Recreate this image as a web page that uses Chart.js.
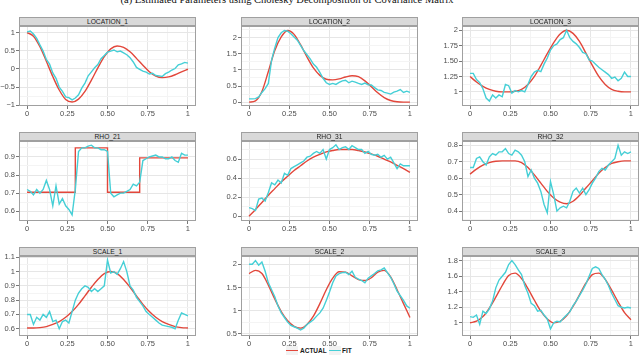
<!DOCTYPE html>
<html>
<head>
<meta charset="utf-8">
<script src="https://cdn.jsdelivr.net/npm/chart.js@4.4.0/dist/chart.umd.min.js"></script>
<style>
  body { margin: 0; width: 640px; height: 358px; overflow: hidden; background: #fff; position: relative; font-family: 'Liberation Sans', Arial, sans-serif; }
  canvas { position: absolute; }
  .title { position: absolute; left: 0; width: 574px; top: -6px; text-align: center; font: 10.5px 'Liberation Serif', serif; color: #111; white-space: nowrap; }
  .strip { position: absolute; height: 9px; box-sizing: border-box; background: #d9d9d9; border: 1px solid #a0a0a0; font-size: 6.7px; line-height: 7px; text-align: center; color: #1a1a1a; z-index: 2; }
  .key { position: absolute; width: 12px; height: 9px; background: #f2f2f2; }
  .key i { position: absolute; left: 0; right: 0; top: 3.5px; height: 1.6px; }
  .lab { position: absolute; font-size: 6.5px; font-weight: bold; line-height: 9px; color: #1a1a1a; }
</style>
</head>
<body>
<div class="title">(a) Estimated Parameters using Cholesky Decomposition of Covariance Matrix</div>
<div class="key" style="left:286px;top:346px"><i style="background:#e2473b"></i></div>
<div class="lab" style="left:300px;top:346px">ACTUAL</div>
<div class="key" style="left:329px;top:346px"><i style="background:#45cfd6"></i></div>
<div class="lab" style="left:342px;top:346px">FIT</div>
<script>
// x grids
const actualX = [0, 0.04, 0.08, 0.12, 0.16, 0.20, 0.24, 0.28, 0.32, 0.36, 0.40, 0.44, 0.48, 0.52, 0.56, 0.60, 0.64, 0.68, 0.72, 0.76, 0.80, 0.84, 0.88, 0.92, 0.96, 1.00];
const fitX = [0, 0.02, 0.04, 0.06, 0.08, 0.10, 0.12, 0.14, 0.16, 0.18, 0.20, 0.22, 0.24, 0.26, 0.28, 0.30, 0.32, 0.34, 0.36, 0.38, 0.40, 0.42, 0.44, 0.46, 0.48, 0.50, 0.52, 0.54, 0.56, 0.58, 0.60, 0.62, 0.64, 0.66, 0.68, 0.70, 0.72, 0.74, 0.76, 0.78, 0.80, 0.82, 0.84, 0.86, 0.88, 0.90, 0.92, 0.94, 0.96, 0.98, 1.00];
const stepX = [0, 0.3, 0.3, 0.5, 0.5, 0.7, 0.7, 1];
const xTicks = [0, 0.25, 0.5, 0.75, 1];
const xLabels = ['0', '0.25', '0.50', '0.75', '1'];

// LOCATION_1
const location1Actual = [1.00, 0.90, 0.61, 0.21, -0.21, -0.58, -0.84, -0.91, -0.83, -0.62, -0.31, 0.03, 0.34, 0.55, 0.63, 0.59, 0.47, 0.29, 0.10, -0.08, -0.20, -0.24, -0.22, -0.16, -0.08, -0.01];
const location1Fit = [1.02, 1.04, 0.96, 0.84, 0.66, 0.49, 0.26, 0.13, -0.11, -0.26, -0.50, -0.62, -0.77, -0.79, -0.85, -0.80, -0.71, -0.53, -0.39, -0.19, -0.08, 0.03, 0.12, 0.28, 0.37, 0.46, 0.49, 0.52, 0.47, 0.49, 0.44, 0.39, 0.31, 0.19, 0.04, -0.01, -0.06, -0.09, -0.14, -0.12, -0.18, -0.19, -0.21, -0.13, -0.09, -0.03, 0.01, 0.11, 0.14, 0.18, 0.16];
const location1Ticks = [-1, -0.5, 0, 0.5, 1];
const location1Labels = ['\u22121', '\u22120.5', '0', '0.5', '1'];

// LOCATION_2
const location2Actual = [0.00, 0.04, 0.33, 0.95, 1.60, 2.02, 2.22, 2.10, 1.78, 1.40, 1.06, 0.83, 0.71, 0.69, 0.72, 0.78, 0.82, 0.79, 0.66, 0.48, 0.29, 0.14, 0.05, 0.01, 0.00, 0.00];
const location2Fit = [0.10, 0.10, 0.11, 0.16, 0.30, 0.42, 0.58, 1.30, 1.68, 2.00, 2.15, 2.22, 2.20, 2.12, 2.02, 1.92, 1.76, 1.60, 1.47, 1.34, 1.18, 1.08, 0.92, 0.74, 0.60, 0.55, 0.58, 0.55, 0.61, 0.66, 0.68, 0.60, 0.65, 0.62, 0.58, 0.55, 0.59, 0.54, 0.53, 0.45, 0.38, 0.36, 0.30, 0.28, 0.25, 0.31, 0.34, 0.39, 0.30, 0.34, 0.30];
const location2Ticks = [0, 0.5, 1, 1.5, 2];
const location2Labels = ['0', '0.5', '1', '1.5', '2'];

// LOCATION_3
const location3Actual = [1.25, 1.16, 1.09, 1.04, 1.01, 1.00, 1.00, 1.01, 1.04, 1.12, 1.25, 1.43, 1.62, 1.80, 1.94, 2.00, 1.95, 1.82, 1.63, 1.43, 1.25, 1.12, 1.04, 1.01, 1.00, 1.00];
const location3Fit = [1.30, 1.30, 1.20, 1.15, 1.05, 0.90, 0.85, 0.95, 0.90, 0.95, 0.92, 1.12, 1.10, 0.98, 1.02, 1.00, 1.02, 1.00, 1.12, 1.25, 1.32, 1.35, 1.33, 1.45, 1.55, 1.68, 1.75, 1.78, 1.85, 1.88, 2.00, 1.88, 1.82, 1.78, 1.72, 1.64, 1.62, 1.52, 1.50, 1.45, 1.40, 1.36, 1.32, 1.28, 1.22, 1.24, 1.18, 1.22, 1.32, 1.25, 1.25];
const location3Ticks = [1, 1.25, 1.5, 1.75, 2];
const location3Labels = ['1', '1.25', '1.50', '1.75', '2'];

// RHO_21
const rho21Actual = [0.705, 0.705, 0.95, 0.95, 0.705, 0.705, 0.895, 0.895];
const rho21Fit = [0.72, 0.71, 0.69, 0.72, 0.70, 0.72, 0.77, 0.72, 0.63, 0.74, 0.64, 0.67, 0.63, 0.61, 0.58, 0.72, 0.93, 0.95, 0.95, 0.96, 0.965, 0.95, 0.95, 0.94, 0.94, 0.93, 0.70, 0.68, 0.69, 0.70, 0.70, 0.71, 0.72, 0.75, 0.74, 0.76, 0.88, 0.89, 0.90, 0.905, 0.91, 0.90, 0.90, 0.89, 0.89, 0.90, 0.88, 0.87, 0.92, 0.91, 0.91];
const rho21Ticks = [0.6, 0.7, 0.8, 0.9];
const rho21Labels = ['0.6', '0.7', '0.8', '0.9'];

// RHO_31
const rho31Actual = [0.00, 0.07, 0.145, 0.22, 0.29, 0.36, 0.42, 0.48, 0.53, 0.58, 0.62, 0.65, 0.675, 0.69, 0.70, 0.70, 0.70, 0.69, 0.675, 0.655, 0.63, 0.60, 0.57, 0.535, 0.50, 0.46];
const rho31Fit = [0.09, 0.08, 0.06, 0.18, 0.19, 0.16, 0.25, 0.35, 0.33, 0.38, 0.35, 0.45, 0.43, 0.50, 0.52, 0.54, 0.56, 0.58, 0.62, 0.63, 0.66, 0.68, 0.66, 0.70, 0.60, 0.70, 0.72, 0.75, 0.70, 0.72, 0.73, 0.70, 0.74, 0.72, 0.70, 0.70, 0.66, 0.68, 0.65, 0.64, 0.65, 0.62, 0.64, 0.60, 0.62, 0.56, 0.50, 0.55, 0.53, 0.53, 0.53];
const rho31Ticks = [0, 0.2, 0.4, 0.6];
const rho31Labels = ['0', '0.2', '0.4', '0.6'];

// RHO_32
const rho32Actual = [0.625, 0.655, 0.68, 0.695, 0.703, 0.705, 0.705, 0.705, 0.695, 0.665, 0.62, 0.57, 0.52, 0.48, 0.455, 0.445, 0.46, 0.495, 0.54, 0.585, 0.63, 0.665, 0.69, 0.70, 0.705, 0.705];
const rho32Fit = [0.665, 0.665, 0.72, 0.73, 0.70, 0.68, 0.73, 0.75, 0.74, 0.76, 0.76, 0.78, 0.75, 0.74, 0.77, 0.76, 0.74, 0.70, 0.61, 0.65, 0.60, 0.57, 0.52, 0.44, 0.39, 0.58, 0.50, 0.40, 0.42, 0.43, 0.42, 0.46, 0.52, 0.54, 0.51, 0.54, 0.50, 0.53, 0.57, 0.60, 0.64, 0.66, 0.65, 0.68, 0.70, 0.72, 0.80, 0.74, 0.76, 0.75, 0.76];
const rho32Ticks = [0.4, 0.5, 0.6, 0.7, 0.8];
const rho32Labels = ['0.4', '0.5', '0.6', '0.7', '0.8'];

// SCALE_1
const scale1Actual = [0.605, 0.605, 0.608, 0.615, 0.63, 0.65, 0.68, 0.72, 0.77, 0.83, 0.89, 0.945, 0.985, 1.00, 0.985, 0.945, 0.89, 0.83, 0.77, 0.72, 0.68, 0.65, 0.63, 0.615, 0.608, 0.605];
const scale1Fit = [0.70, 0.70, 0.63, 0.68, 0.66, 0.70, 0.68, 0.72, 0.65, 0.66, 0.60, 0.65, 0.66, 0.64, 0.72, 0.80, 0.85, 0.88, 0.90, 0.89, 0.86, 0.88, 0.86, 0.88, 0.90, 1.08, 0.99, 1.00, 0.98, 1.02, 1.07, 1.00, 0.90, 0.87, 0.82, 0.79, 0.76, 0.72, 0.70, 0.68, 0.66, 0.64, 0.625, 0.62, 0.615, 0.61, 0.60, 0.66, 0.71, 0.70, 0.69];
const scale1Ticks = [0.6, 0.7, 0.8, 0.9, 1, 1.1];
const scale1Labels = ['0.6', '0.7', '0.8', '0.9', '1', '1.1'];

// SCALE_2
const scale2Actual = [1.80, 1.87, 1.80, 1.55, 1.25, 0.98, 0.78, 0.66, 0.62, 0.70, 0.88, 1.15, 1.45, 1.70, 1.84, 1.83, 1.75, 1.67, 1.65, 1.71, 1.83, 1.87, 1.73, 1.45, 1.15, 0.85];
const scale2Fit = [2.00, 2.00, 2.08, 1.98, 2.05, 1.85, 1.60, 1.45, 1.30, 1.10, 0.95, 0.85, 0.75, 0.68, 0.65, 0.62, 0.58, 0.62, 0.70, 0.75, 0.80, 0.88, 0.95, 1.05, 1.22, 1.40, 1.60, 1.75, 1.80, 1.82, 1.83, 1.78, 1.85, 1.72, 1.68, 1.65, 1.60, 1.70, 1.75, 1.80, 1.86, 1.88, 1.92, 1.82, 1.72, 1.58, 1.42, 1.32, 1.22, 1.10, 1.05];
const scale2Ticks = [0.5, 1, 1.5, 2];
const scale2Labels = ['0.5', '1', '1.5', '2'];

// SCALE_3
const scale3Actual = [1.00, 1.02, 1.08, 1.19, 1.33, 1.48, 1.61, 1.64, 1.57, 1.44, 1.29, 1.15, 1.05, 1.00, 1.02, 1.09, 1.21, 1.36, 1.51, 1.62, 1.64, 1.56, 1.42, 1.27, 1.13, 1.04];
const scale3Fit = [1.08, 1.07, 1.10, 0.98, 1.15, 1.12, 1.18, 1.28, 1.45, 1.55, 1.60, 1.65, 1.75, 1.80, 1.75, 1.68, 1.62, 1.48, 1.38, 1.25, 1.22, 1.15, 1.16, 1.10, 1.05, 0.92, 1.00, 1.02, 1.01, 1.06, 1.10, 1.14, 1.22, 1.28, 1.35, 1.42, 1.50, 1.60, 1.70, 1.72, 1.70, 1.62, 1.56, 1.48, 1.38, 1.30, 1.22, 1.20, 1.19, 1.20, 1.19];
const scale3Ticks = [1, 1.2, 1.4, 1.6, 1.8];
const scale3Labels = ['1', '1.2', '1.4', '1.6', '1.8'];

const panels = [
  { name: 'LOCATION_1', ax: actualX, ay: location1Actual, fy: location1Fit, ticks: location1Ticks, labels: location1Labels, min: -1.02, max: 1.18 },
  { name: 'LOCATION_2', ax: actualX, ay: location2Actual, fy: location2Fit, ticks: location2Ticks, labels: location2Labels, min: -0.12, max: 2.36 },
  { name: 'LOCATION_3', ax: actualX, ay: location3Actual, fy: location3Fit, ticks: location3Ticks, labels: location3Labels, min: 0.77, max: 2.07 },
  { name: 'RHO_21', ax: stepX, ay: rho21Actual, fy: rho21Fit, ticks: rho21Ticks, labels: rho21Labels, min: 0.546, max: 0.988, step: true },
  { name: 'RHO_31', ax: actualX, ay: rho31Actual, fy: rho31Fit, ticks: rho31Ticks, labels: rho31Labels, min: -0.05, max: 0.79 },
  { name: 'RHO_32', ax: actualX, ay: rho32Actual, fy: rho32Fit, ticks: rho32Ticks, labels: rho32Labels, min: 0.34, max: 0.826 },
  { name: 'SCALE_1', ax: actualX, ay: scale1Actual, fy: scale1Fit, ticks: scale1Ticks, labels: scale1Labels, min: 0.549, max: 1.109 },
  { name: 'SCALE_2', ax: actualX, ay: scale2Actual, fy: scale2Fit, ticks: scale2Ticks, labels: scale2Labels, min: 0.45, max: 2.18 },
  { name: 'SCALE_3', ax: actualX, ay: scale3Actual, fy: scale3Fit, ticks: scale3Ticks, labels: scale3Labels, min: 0.83, max: 1.86 }
];

const colLeft = [19, 241, 462];
const rowTop = [26, 141, 256];
const plotW = 177, plotH = 80;
const padL = 32, padT = 8, padR = 8, padB = 16;

Chart.defaults.font.family = "'Liberation Sans', Arial, sans-serif";

// grid ticks incl. ggplot style minor breaks halfway between majors
function withMinors(majors, lo, hi) {
  const step = majors[1] - majors[0];
  const out = majors.slice();
  for (let v = majors[0] - step / 2; v <= majors[majors.length - 1] + step; v += step) {
    if (v > lo && v < hi) out.push(v);
  }
  return out;
}

function isMajor(list, v) {
  return list.some(m => Math.abs(m - v) < 1e-9);
}

function labelFor(list, labels, v) {
  const i = list.findIndex(m => Math.abs(m - v) < 1e-9);
  return i < 0 ? '' : labels[i];
}

const frame = {
  id: 'frame',
  afterDraw(chart) {
    const a = chart.chartArea, ctx = chart.ctx;
    ctx.save();
    ctx.strokeStyle = '#a0a0a0';
    ctx.lineWidth = 1;
    ctx.strokeRect(a.left + 0.5, a.top + 0.5, a.width - 1, a.height - 1);
    ctx.restore();
  }
};

const xAll = withMinors(xTicks, -0.05, 1.05);

panels.forEach((p, i) => {
  const col = i % 3, row = Math.floor(i / 3);

  const strip = document.createElement('div');
  strip.className = 'strip';
  strip.textContent = p.name;
  strip.style.left = colLeft[col] + 'px';
  strip.style.top = (rowTop[row] - 9) + 'px';
  strip.style.width = plotW + 'px';
  document.body.appendChild(strip);

  const c = document.createElement('canvas');
  c.width = padL + plotW + padR;
  c.height = padT + plotH + padB;
  c.style.left = (colLeft[col] - padL) + 'px';
  c.style.top = (rowTop[row] - padT) + 'px';
  document.body.appendChild(c);

  const yAll = withMinors(p.ticks, p.min, p.max);

  new Chart(c, {
    type: 'line',
    data: {
      datasets: [
        {
          label: 'FIT',
          data: fitX.map((x, k) => ({ x: x, y: p.fy[k] })),
          borderColor: '#45cfd6',
          borderWidth: 1.4,
          pointRadius: 0,
          tension: 0
        },
        {
          label: 'ACTUAL',
          data: p.ax.map((x, k) => ({ x: x, y: p.ay[k] })),
          borderColor: '#e2473b',
          borderWidth: 1.4,
          pointRadius: 0,
          cubicInterpolationMode: p.step ? 'default' : 'monotone',
          tension: p.step ? 0 : 0.4
        }
      ]
    },
    options: {
      responsive: false,
      animation: false,
      devicePixelRatio: 1,
      layout: { padding: { top: padT, right: padR, left: 0, bottom: 0 } },
      plugins: { legend: { display: false }, tooltip: { enabled: false } },
      scales: {
        x: {
          type: 'linear',
          min: -0.05,
          max: 1.05,
          afterBuildTicks: s => { s.ticks = xAll.map(v => ({ value: v })); },
          afterFit: s => { s.height = padB; },
          border: { display: false },
          grid: {
            color: ctx => isMajor(xTicks, ctx.tick.value) ? '#e6e6e6' : '#f4f4f4',
            tickColor: ctx => isMajor(xTicks, ctx.tick.value) ? '#777' : 'rgba(0,0,0,0)',
            tickLength: 3,
            lineWidth: 1
          },
          ticks: {
            callback: v => labelFor(xTicks, xLabels, v),
            autoSkip: false,
            maxRotation: 0,
            padding: 0,
            color: '#4d4d4d',
            font: { size: 7.5 }
          }
        },
        y: {
          min: p.min,
          max: p.max,
          afterBuildTicks: s => { s.ticks = yAll.map(v => ({ value: v })); },
          afterFit: s => { s.width = padL; },
          border: { display: false },
          grid: {
            color: ctx => isMajor(p.ticks, ctx.tick.value) ? '#e6e6e6' : '#f4f4f4',
            tickColor: ctx => isMajor(p.ticks, ctx.tick.value) ? '#777' : 'rgba(0,0,0,0)',
            tickLength: 3,
            lineWidth: 1
          },
          ticks: {
            callback: v => labelFor(p.ticks, p.labels, v),
            autoSkip: false,
            padding: 1,
            color: '#4d4d4d',
            font: { size: 7.5 }
          }
        }
      }
    },
    plugins: [frame]
  });
});
</script>
</body>
</html>
